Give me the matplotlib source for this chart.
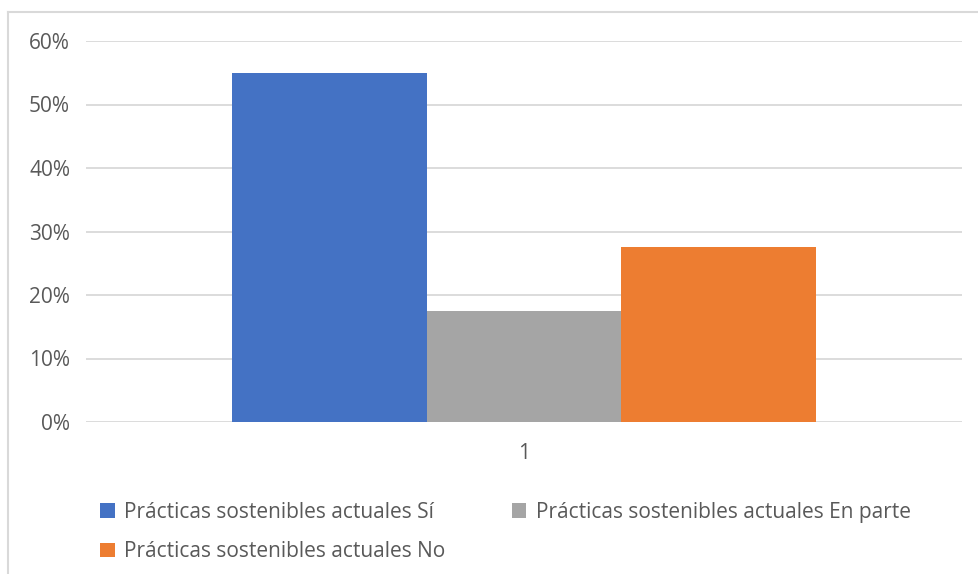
import matplotlib
matplotlib.use("Agg")
import matplotlib.pyplot as plt
from matplotlib.lines import Line2D
from matplotlib.ticker import FuncFormatter

plt.rcParams['font.family'] = ['Open Sans', 'DejaVu Sans']

categories = ["1"]
series_names = ["Prácticas sostenibles actuales Sí",
                "Prácticas sostenibles actuales En parte",
                "Prácticas sostenibles actuales No"]
values = [0.55, 0.175, 0.275]
colors = ["#4472C4", "#A5A5A5", "#ED7D31"]
yticks = [0, 0.1, 0.2, 0.3, 0.4, 0.5, 0.6]

W, H = 979, 574
fig = plt.figure(figsize=(W / 100, H / 100), dpi=100)
ax = fig.add_axes([86 / W, 1 - 422 / H, (962 - 86) / W, (422 - 41) / H])

bw = 0.2226
offsets = [-bw, 0, bw]
handles = []
for name, v, c, off in zip(series_names, values, colors, offsets):
    b = ax.bar(0 + off, v, width=bw, color=c, label=name, zorder=3)
    handles.append(b)

ax.set_xlim(-0.5, 0.5)
ax.set_ylim(0, 0.6)
ax.set_yticks(yticks)
ax.yaxis.set_major_formatter(FuncFormatter(lambda v, p: f"{v*100:.0f}%"))
ax.set_xticks([0])
ax.set_xticklabels(categories)
ax.grid(axis='y', color='#D9D9D9', linewidth=1.3, zorder=0)
for s in ax.spines.values():
    s.set_visible(False)
ax.tick_params(axis='both', length=0, colors='#595959', labelsize=15)
ax.tick_params(axis='y', pad=11.5)
ax.tick_params(axis='x', pad=15)

# chart border
fig.add_artist(Line2D([8 / W, 8 / W], [0, 1 - 12 / H], color='#D9D9D9', lw=1.5,
                      transform=fig.transFigure))
fig.add_artist(Line2D([8 / W, 1], [1 - 12 / H, 1 - 12 / H], color='#D9D9D9', lw=1.5,
                      transform=fig.transFigure))

order = [0, 2, 1]
leg = fig.legend([handles[i] for i in order], [series_names[i] for i in order],
                 ncol=2, loc='upper left', bbox_to_anchor=(100 / W, 1 - 502 / H),
                 frameon=False, fontsize=15, handlelength=0.7, handleheight=0.7,
                 handletextpad=0.45, columnspacing=3.2, labelspacing=0.88,
                 borderaxespad=0, borderpad=0)
for t in leg.get_texts():
    t.set_color('#595959')

fig.savefig("out.png", dpi=100)
